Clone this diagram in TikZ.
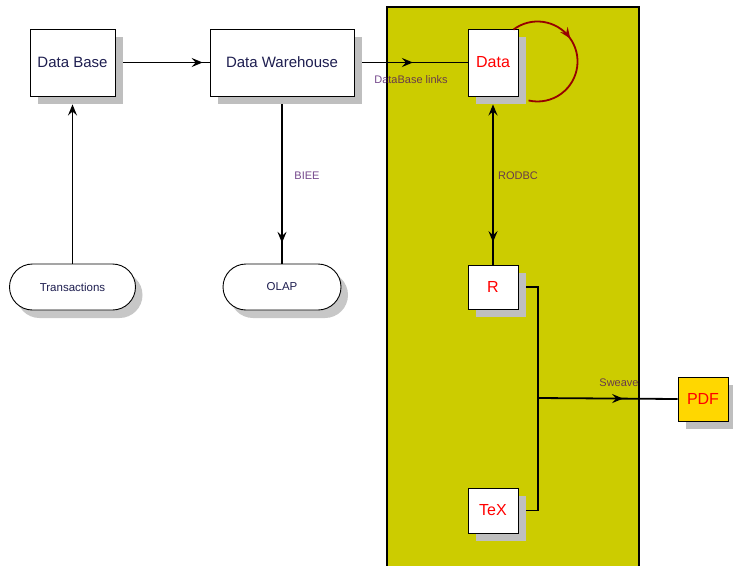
\documentclass[tikz,border=0pt]{standalone}
\usepackage{fontspec}
\setmainfont{Liberation Sans}
\usetikzlibrary{arrows.meta,shapes.misc,shadows,decorations.markings}
\definecolor{panelyellow}{RGB}{204,204,0}
\definecolor{pdfgold}{RGB}{255,215,0}
\definecolor{boxtext}{RGB}{30,30,80}
\definecolor{looped}{RGB}{150,0,0}
\definecolor{lbltext}{RGB}{70,10,100}
\begin{document}
\begin{tikzpicture}[x=1pt,y=-1pt,
  box/.style={draw,line width=0.9pt,fill=white,inner sep=0pt,
    drop shadow={shadow xshift=8pt,shadow yshift=-8pt,fill=black!25,opacity=1},
    text=boxtext,font=\fontsize{15}{18}\selectfont},
  redbox/.style={box,text=red,font=\fontsize{16}{19}\selectfont,minimum width=50pt},
  pill/.style={draw,rounded rectangle,line width=0.9pt,fill=white,inner sep=0pt,
    minimum width=#1,minimum height=46pt,
    drop shadow={shadow xshift=7pt,shadow yshift=-8pt,fill=black!22,opacity=1},
    text=boxtext,font=\fontsize{11.5}{14}\selectfont},
  lbl/.style={text=lbltext,text opacity=0.75,inner sep=0pt,font=\fontsize{11}{13}\selectfont},
  conn/.style={line width=1.8pt},
  midarr/.style={postaction={decorate},
    decoration={markings,mark=at position #1 with {\arrow{Stealth[length=11pt,width=9pt,inset=4pt]}}}}]
\useasboundingbox (0,0) rectangle (733,565);
\clip (0,0) rectangle (733,565);
\draw[fill=panelyellow,line width=1.4pt] (387,7) rectangle (639,580);
\node[box,minimum width=85pt,minimum height=67pt] (db) at (72.5,62.5) {Data Base};
\node[box,minimum width=144pt,minimum height=67pt] (dw) at (282,62.5) {Data Warehouse};
\node[redbox,minimum height=67pt] (data) at (493,62.5) {Data};
\node[redbox,minimum height=44pt] (r) at (493,287) {R};
\node[redbox,minimum height=45pt] (tex) at (493,510.5) {TeX};
\node[redbox,fill=pdfgold,minimum height=44pt] (pdf) at (703,399) {PDF};
\node[pill=126pt] (trans) at (72.5,287) {Transactions};
\node[pill=118pt] (olap) at (282,287) {OLAP};
\coordinate (bus) at (538,398);
\draw[conn,midarr=0.92] ([xshift=8pt]db.east) -- (dw.west);
\draw[conn,midarr=0.48] ([xshift=8pt]dw.east) -- (data.west);
\draw[conn,-{Stealth[length=11pt,width=9pt,inset=4pt]}] (trans.north) -- ([yshift=-8pt]db.south);
\draw[conn,midarr=0.87] ([yshift=-8pt]dw.south) -- (olap.north);
\draw[conn,{Stealth[length=11pt,width=9pt,inset=4pt]}-,midarr=0.86] ([yshift=-8pt]data.south) -- (r.north);
\draw[conn] ([xshift=8pt]r.east) -| (bus) |- ([xshift=8pt]tex.east);
\draw[conn,midarr=0.61] (bus) -- (pdf.west);
\draw[looped,line width=1.8pt,midarr=0.4] ([xshift=-5pt,yshift=-1pt]data.north east) arc[start angle=-127,end angle=103,radius=40];
\node[lbl] (links) at (411,80) {DataBase links};
\node[lbl] (biee) at (307,176) {BIEE};
\node[lbl] (rodbc) at (518,176) {RODBC};
\node[lbl] (sweave) at (619,383) {Sweave};
\end{tikzpicture}
\end{document}
